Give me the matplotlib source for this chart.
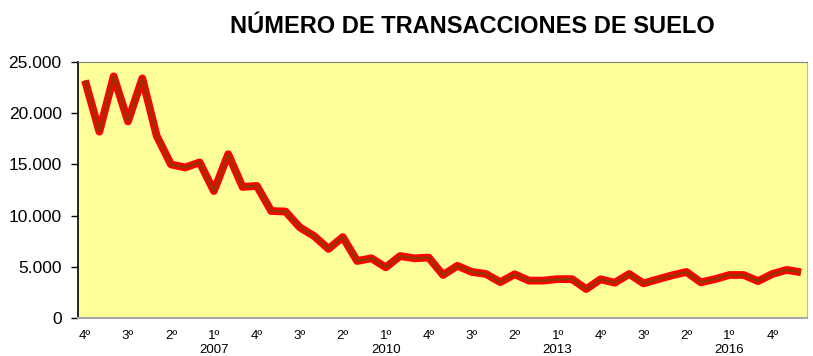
import matplotlib
matplotlib.use("Agg")
import matplotlib.pyplot as plt
from matplotlib.ticker import FuncFormatter

plt.rcParams['font.family'] = ['Liberation Sans', 'DejaVu Sans']

title = "NÚMERO DE TRANSACCIONES DE SUELO"

# Quarterly series, 4th quarter 2004 to 2nd quarter 2017
start_year = 2004
start_quarter = 4
values = [23200, 18200, 23600, 19200, 23400, 17800, 15000, 14700, 15200, 12400,
          16000, 12800, 12900, 10450, 10400, 8850, 8000, 6750, 7900, 5570,
          5830, 4950, 6050, 5830, 5900, 4200, 5100, 4500, 4300, 3500,
          4270, 3650, 3650, 3800, 3800, 2830, 3780, 3450, 4300, 3380,
          3780, 4170, 4500, 3480, 3800, 4200, 4200, 3600, 4300, 4700,
          4460]

quarter_names = ["1º", "2º", "3º", "4º"]
tick_step = 3
y_ticks = [0, 5000, 10000, 15000, 20000, 25000]

periods = []
y, q = start_year, start_quarter
for _ in values:
    periods.append((y, q))
    q += 1
    if q > 4:
        q = 1
        y += 1

fig = plt.figure(figsize=(8.13, 3.56), dpi=100)
ax = fig.add_axes([0.0963, 0.1067, 0.8969, 0.7191])
ax.set_facecolor('#FFFF99')

x = list(range(len(values)))
ax.plot(x, values, color='#FF0000', lw=5.6, solid_capstyle='butt', solid_joinstyle='round', zorder=3)
ax.plot(x, values, color='#993300', lw=2.0, solid_capstyle='butt', solid_joinstyle='round', zorder=4)

ax.set_xlim(-0.47, len(values) - 1 + 0.45)
ax.set_ylim(0, 25000)
ax.set_yticks(y_ticks)
ax.yaxis.set_major_formatter(FuncFormatter(lambda v, p: f"{int(v):,}".replace(",", ".")))
ax.tick_params(axis='y', direction='out', length=5, width=1, color='black',
               labelsize=12.5, pad=7)

tick_idx = list(range(0, len(values), tick_step))
tick_labels = [quarter_names[periods[i][1] - 1] for i in tick_idx]
ax.set_xticks(tick_idx)
ax.set_xticklabels(tick_labels, fontsize=9.5)
ax.tick_params(axis='x', length=0, pad=8.5)

for i in tick_idx:
    yr, qq = periods[i]
    if qq == 1:
        ax.annotate(str(yr), xy=(i, 0), xycoords=('data', 'axes fraction'),
                    xytext=(0, -19), textcoords='offset points',
                    ha='center', va='top', fontsize=9.5)

ax.spines['left'].set_color('black')
ax.spines['left'].set_linewidth(1.2)
ax.spines['bottom'].set_color('#A8A8A8')
ax.spines['bottom'].set_linewidth(1.5)
ax.spines['top'].set_color('#7F7F7F')
ax.spines['right'].set_color('#B8B8B8')

fig.text(0.581, 0.925, title, ha='center', va='center', fontsize=17, fontweight='bold')

fig.savefig('out.png', dpi=100)
